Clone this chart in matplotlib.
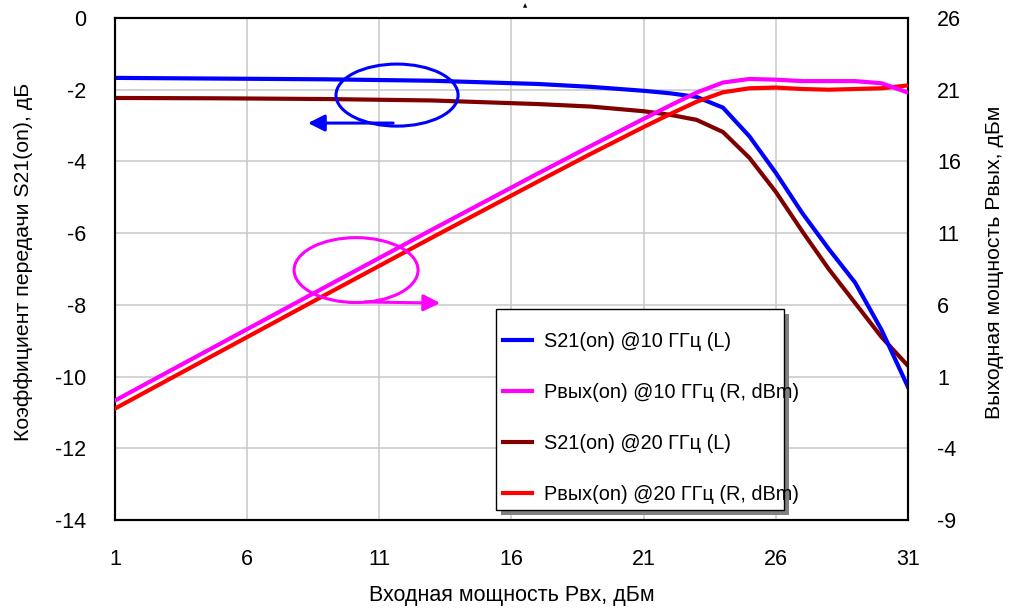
import matplotlib
matplotlib.use("Agg")
import matplotlib.pyplot as plt
from matplotlib.patches import Ellipse, Rectangle

plt.rcParams["font.family"] = ["Liberation Sans", "DejaVu Sans"]
plt.rcParams["axes.unicode_minus"] = False

# input power, dBm
p_in = [1, 5, 9, 13, 17, 19, 21, 22, 23, 24, 25, 26, 27, 28, 29, 30, 31]
# S21(on), dB (left axis)
s21_10 = [-1.67, -1.69, -1.71, -1.75, -1.84, -1.92, -2.03, -2.10, -2.20,
          -2.50, -3.30, -4.32, -5.44, -6.44, -7.38, -8.70, -10.29]
s21_20 = [-2.23, -2.24, -2.26, -2.30, -2.40, -2.47, -2.60, -2.70, -2.84,
          -3.18, -3.90, -4.85, -5.95, -7.00, -7.95, -8.90, -9.70]
# Pout(on), dBm (right axis)
pout_10 = [-0.67, 3.31, 7.29, 11.25, 15.16, 17.08, 18.97, 19.90, 20.80,
           21.50, 21.75, 21.70, 21.60, 21.60, 21.60, 21.45, 20.80]
pout_20 = [-1.23, 2.76, 6.74, 10.70, 14.60, 16.53, 18.40, 19.30, 20.16,
           20.82, 21.10, 21.15, 21.05, 21.00, 21.05, 21.10, 21.30]

x_ticks = [1, 6, 11, 16, 21, 26, 31]
left_ticks = [0, -2, -4, -6, -8, -10, -12, -14]
right_ticks = [26, 21, 16, 11, 6, 1, -4, -9]

BLUE, MAGENTA, DARKRED, RED = "#0000ff", "#ff00ff", "#800000", "#ff0000"
LW = 3.0
FS = 15.5
W, H = 1012, 614

fig = plt.figure(figsize=(W / 100, H / 100), dpi=100)
ax = fig.add_axes([115 / W, 94 / H, 793 / W, 502 / H])
ax2 = ax.twinx()

l1, = ax.plot(p_in, s21_10, color=BLUE, lw=LW, label="S21(on) @10 ГГц (L)", zorder=4)
l3, = ax.plot(p_in, s21_20, color=DARKRED, lw=LW, label="S21(on) @20 ГГц (L)", zorder=3)
l4, = ax2.plot(p_in, pout_20, color=RED, lw=LW, label="Pвых(on) @20 ГГц (R, dBm)", zorder=3)
l2, = ax2.plot(p_in, pout_10, color=MAGENTA, lw=LW, label="Pвых(on) @10 ГГц (R, dBm)", zorder=4)

ax.set_xlim(1, 31)
ax.set_ylim(-14, 0)
ax2.set_ylim(-9, 26)
ax.set_xticks(x_ticks)
ax.set_yticks(left_ticks)
ax2.set_yticks(right_ticks)
ax.grid(True, color="#c8c8c8", lw=1.1)
ax.set_axisbelow(True)
for a in (ax, ax2):
    a.tick_params(length=0, labelsize=FS, pad=21)
    for s in a.spines.values():
        s.set_linewidth(1.5)
        s.set_color("black")

ax.set_xlabel("Входная мощность Pвх, дБм", fontsize=FS)
ax.set_ylabel("Коэффициент передачи S21(on), дБ", fontsize=15.3)
ax2.set_ylabel("Выходная мощность Pвых, дБм", fontsize=15.3)
ax.xaxis.set_label_coords(0.5, -0.13)
ax.yaxis.set_label_coords(-0.1034, 0.514)
ax2.yaxis.set_label_coords(1.097, 0.514)

# annotation ellipses with arrows, left-axis data coordinates
head = "-|>,head_length=1.0,head_width=0.5"
ax2.add_patch(Ellipse((11.67, -2.15), 4.62, 1.73, fill=False, ec=BLUE, lw=2.2,
                      transform=ax.transData, zorder=6))
ax2.annotate("", xy=(8.3, -2.93), xytext=(11.52, -2.93), xycoords=ax.transData,
             textcoords=ax.transData,
             arrowprops=dict(arrowstyle=head, color=BLUE, lw=2.2,
                             shrinkA=0, shrinkB=0), zorder=6)
ax2.add_patch(Ellipse((10.12, -7.03), 4.69, 1.81, fill=False, ec=MAGENTA, lw=2.2,
                      transform=ax.transData, zorder=6))
ax2.annotate("", xy=(13.3, -7.95), xytext=(10.46, -7.92), xycoords=ax.transData,
             textcoords=ax.transData,
             arrowprops=dict(arrowstyle=head, color=MAGENTA, lw=2.2,
                             shrinkA=0, shrinkB=0), zorder=6)

# legend frame (text runs slightly past the right edge, as in the original)
bx, by, bw, bh = 496, 309, 288, 201
ax2.add_patch(Rectangle(((bx + 5) / W, 1 - (by + bh + 5) / H), bw / W, bh / H,
                        transform=fig.transFigure, fc="0.5", ec="none",
                        zorder=8, clip_on=False))
ax2.add_patch(Rectangle((bx / W, 1 - (by + bh) / H), bw / W, bh / H,
                        transform=fig.transFigure, fc="white", ec="black",
                        lw=1.0, zorder=9, clip_on=False))
leg = ax2.legend(handles=[l1, l2, l3, l4], loc="center left",
                 bbox_to_anchor=(503 / W, 1 - 418 / H),
                 bbox_transform=fig.transFigure, borderaxespad=0, borderpad=0,
                 fontsize=14.3, frameon=False,
                 handlelength=1.44, handletextpad=0.6, labelspacing=1.6)
leg.set_zorder(10)

fig.text(525 / W, 1 - 6 / H, "▲", fontsize=4, ha="center", va="center",
         family="DejaVu Sans")

fig.savefig("out.png", dpi=100)
